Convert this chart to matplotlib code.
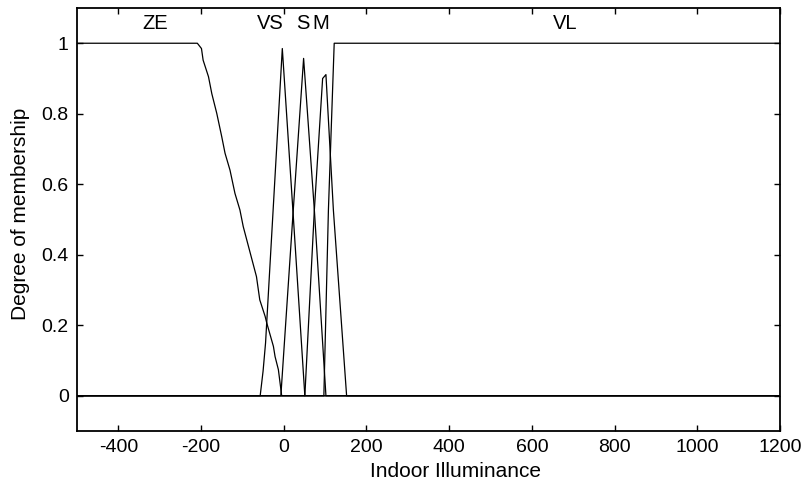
import matplotlib
matplotlib.use("Agg")
from matplotlib import pyplot as plt

plt.rcParams['font.family'] = ['Liberation Sans', 'DejaVu Sans']
plt.rcParams['axes.unicode_minus'] = False

# membership functions
ze_x = [-500, -209, -199, -195, -182, -174, -162, -150, -142, -130, -118, -106, -98, -82, -66, -58, -45, -41, -25, -21, -13, -5, 0, 1200]
ze_y = [1, 1, 0.985, 0.952, 0.905, 0.857, 0.801, 0.735, 0.688, 0.640, 0.574, 0.527, 0.480, 0.409, 0.338, 0.272, 0.225, 0.206, 0.140, 0.111, 0.074, 0.0, 0, 0]

vs_x = [-500, -57, -50, -44, -3.5, 23, 51, 1200]
vs_y = [0, 0, 0.07, 0.15, 0.985, 0.51, 0, 0]

s_x = [-500, -7, 23, 48, 74, 102, 1200]
s_y = [0, 0, 0.527, 0.957, 0.527, 0, 0]

m_x = [-500, 51, 74, 94, 102, 120, 152, 1200]
m_y = [0, 0, 0.527, 0.90, 0.911, 0.527, 0, 0]

vl_x = [-500, 97, 108, 122, 1200]
vl_y = [0, 0, 0.527, 1, 1]

mf_names = ["ZE", "VS", "S", "M", "VL"]
name_x = [-311, -33, 46, 90, 680]
name_y = 1.057

fig = plt.figure(figsize=(8.08, 4.9), dpi=100)
ax = fig.add_axes([0.0953, 0.1204, 0.8700, 0.8633])

for xs, ys in [(ze_x, ze_y), (vs_x, vs_y), (s_x, s_y), (m_x, m_y), (vl_x, vl_y)]:
	ax.plot(xs, ys, color="black", linewidth=0.9)

for name, nx in zip(mf_names, name_x):
	ax.text(nx, name_y, name, ha="center", va="center", fontsize=14.5)

ax.set_xlim(-500, 1200)
ax.set_ylim(-0.1, 1.1)
ax.set_xticks(range(-400, 1201, 200))
ax.set_yticks([0, 0.2, 0.4, 0.6, 0.8, 1])
ax.set_yticklabels(["0", "0.2", "0.4", "0.6", "0.8", "1"])
ax.tick_params(direction="in", length=4, width=1, top=True, right=True, labelsize=14, pad=6)
for sp in ax.spines.values():
	sp.set_linewidth(1.3)

ax.set_xlabel("Indoor Illuminance", fontsize=15)
ax.xaxis.set_label_coords(0.538, -0.073)
ax.set_ylabel("Degree of membership", fontsize=15)
ax.yaxis.set_label_coords(-0.067, 0.513)

fig.savefig("out.png", dpi=100)
